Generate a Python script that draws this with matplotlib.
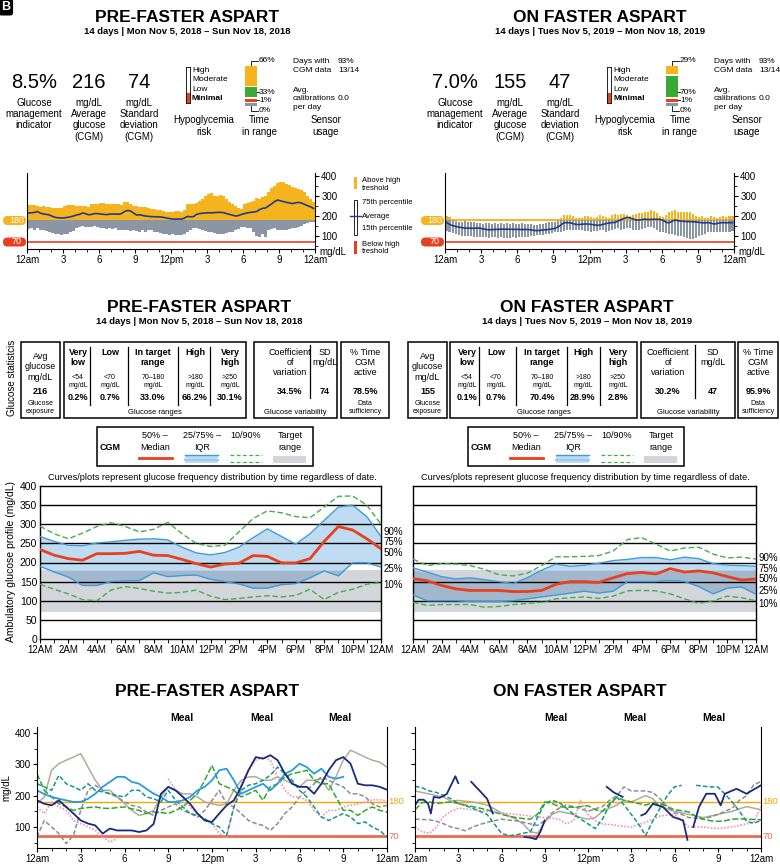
import numpy as np
import matplotlib.pyplot as plt
from matplotlib.patches import Rectangle, FancyBboxPatch

plt.rcParams['font.family'] = ['Liberation Sans', 'DejaVu Sans']

nan = np.nan

# ---------------- data ----------------
titles = ["PRE-FASTER ASPART", "ON FASTER ASPART"]
subtitles = ["14 days | Mon Nov 5, 2018 – Sun Nov 18, 2018",
             "14 days | Tues Nov 5, 2019 – Mon Nov 18, 2019"]
gmi = ["8.5%", "7.0%"]
mean_glucose = [216, 155]
sd_glucose = [74, 47]
tir_above = [66, 29]
tir_in = [33, 70]
tir_low = [1, 1]
tir_vlow = [0, 0]
cgm_days = ["93%", "93%"]
cgm_days_n = ["13/14", "13/14"]
calibrations = ["0.0", "0.0"]
hypo_levels = ["High", "Moderate", "Low", "Minimal"]
hypo_risk = ["Minimal", "Minimal"]

# table
range_names = ["Very\nlow", "Low", "In target\nrange", "High", "Very\nhigh"]
range_limits = ["<54\nmg/dL", "<70\nmg/dL", "70–180\nmg/dL", ">180\nmg/dL", ">250\nmg/dL"]
range_pct = [["0.2%", "0.7%", "33.0%", "66.2%", "30.1%"],
             ["0.1%", "0.7%", "70.4%", "28.9%", "2.8%"]]
cv = ["34.5%", "30.2%"]
cgm_active = ["78.5%", "95.9%"]

# percentile bars, 15 min bins (75th percentile, 15th percentile, average)
pre_p75 = [255, 254, 256, 250, 247, 249, 246, 244, 242, 240, 239, 241,
           250, 254, 256, 255, 252, 250, 249, 251, 246, 258, 262, 261,
           264, 263, 262, 260, 262, 258, 260, 255, 270, 268, 262, 252,
           248, 247, 246, 243, 240, 236, 233, 230, 228, 224, 222, 218,
           220, 223, 224, 222, 232, 262, 258, 262, 266, 275, 285, 300,
           308, 314, 300, 302, 303, 298, 285, 270, 262, 250, 242, 235,
           262, 266, 270, 275, 292, 284, 295, 300, 320, 338, 350, 367,
           372, 368, 362, 355, 345, 340, 333, 330, 318, 300, 285, 268]
pre_p15 = [135, 138, 132, 140, 132, 128, 125, 120, 115, 112, 108, 105,
           108, 112, 118, 125, 140, 145, 148, 146, 147, 145, 148, 143,
           140, 138, 135, 140, 135, 138, 132, 130, 128, 132, 125, 128,
           125, 122, 128, 120, 130, 128, 122, 118, 115, 110, 108, 105,
           108, 105, 103, 106, 110, 120, 130, 138, 140, 135, 128, 125,
           122, 118, 115, 112, 110, 112, 115, 118, 122, 128, 135, 145,
           147, 140, 138, 120, 98, 97, 112, 96, 130, 135, 138, 132,
           130, 128, 132, 136, 138, 140, 145, 150, 158, 163, 168, 172]
pre_avg = [215, 216, 218, 222, 214, 210, 208, 205, 198, 193, 191, 190,
           191, 193, 196, 200, 205, 208, 215, 212, 206, 208, 212, 212,
           210, 208, 207, 209, 210, 210, 209, 212, 222, 228, 225, 215,
           205, 206, 203, 200, 198, 197, 196, 196, 195, 193, 190, 187,
           185, 184, 185, 184, 190, 198, 196, 197, 208, 212, 214, 215,
           216, 216, 217, 218, 218, 217, 212, 208, 204, 200, 202, 208,
           212, 216, 218, 220, 222, 232, 238, 240, 250, 260, 272, 280,
           276, 272, 268, 265, 262, 266, 268, 265, 258, 252, 246, 238]
on_p75 = [202, 196, 178, 175, 172, 170, 176, 170, 168, 172, 166, 164,
          162, 165, 163, 160, 164, 162, 165, 160, 163, 161, 164, 162,
          160, 163, 158, 160, 158, 155, 157, 160, 162, 165, 168, 170,
          172, 176, 190, 204, 205, 204, 200, 192, 188, 190, 198, 200,
          195, 190, 193, 204, 200, 196, 188, 204, 208, 206, 210, 212,
          207, 198, 205, 210, 216, 214, 218, 222, 230, 226, 214, 200,
          195, 205, 222, 226, 228, 220, 222, 220, 218, 220, 210, 198,
          196, 200, 190, 188, 200, 196, 192, 195, 200, 196, 198, 200]
on_p15 = [125, 120, 115, 110, 105, 102, 98, 100, 100, 97, 95, 96,
          95, 93, 92, 94, 93, 92, 95, 92, 92, 90, 93, 92,
          95, 93, 96, 95, 100, 102, 104, 105, 107, 110, 112, 115,
          118, 120, 122, 125, 128, 130, 128, 132, 130, 128, 126, 124,
          122, 125, 127, 130, 128, 122, 125, 130, 135, 138, 132, 135,
          140, 138, 130, 128, 132, 135, 140, 145, 147, 140, 128, 122,
          118, 115, 112, 108, 105, 100, 98, 96, 90, 85, 83, 90,
          100, 106, 112, 118, 120, 122, 118, 120, 122, 118, 120, 124]
on_avg = [168, 158, 152, 148, 145, 142, 140, 139, 139, 138, 140, 139,
          136, 133, 131, 132, 133, 133, 134, 134, 134, 134, 133, 133,
          133, 132, 133, 132, 131, 128, 127, 128, 130, 131, 133, 135,
          138, 145, 155, 166, 167, 166, 162, 158, 157, 159, 160, 160,
          158, 156, 153, 155, 158, 162, 165, 167, 168, 175, 182, 188,
          193, 190, 185, 180, 180, 183, 184, 183, 183, 184, 184, 183,
          178, 168, 166, 175, 180, 176, 174, 173, 172, 172, 171, 170,
          168, 166, 166, 167, 163, 160, 163, 166, 167, 166, 167, 167]

# ambulatory glucose profile, hourly 12AM..12AM
pre_agp10 = [143, 130, 118, 103, 100, 128, 137, 132, 125, 120, 122, 128, 112,
             103, 106, 110, 113, 110, 114, 130, 103, 122, 130, 143, 148]
pre_agp25 = [190, 175, 162, 140, 140, 150, 152, 153, 173, 163, 166, 167, 156,
             150, 144, 133, 133, 142, 145, 160, 178, 165, 199, 199, 188]
pre_agp50 = [234, 219, 210, 206, 223, 223, 224, 229, 219, 218, 208, 197, 188,
             196, 198, 218, 216, 199, 199, 210, 255, 294, 285, 262, 236]
pre_agp75 = [268, 255, 245, 244, 251, 254, 258, 261, 262, 259, 240, 225, 220,
             226, 240, 265, 288, 268, 248, 275, 310, 345, 350, 320, 268]
pre_agp90 = [295, 275, 262, 277, 294, 304, 294, 280, 287, 305, 275, 250, 242,
             245, 280, 315, 335, 330, 320, 317, 345, 373, 374, 350, 300]
on_agp10 = [96, 88, 90, 90, 90, 83, 85, 90, 93, 96, 105, 108, 110,
            106, 112, 126, 127, 126, 118, 105, 93, 100, 112, 108, 100]
on_agp25 = [115, 100, 100, 100, 98, 98, 98, 100, 105, 110, 115, 120, 125,
            120, 125, 150, 150, 150, 153, 150, 137, 118, 133, 136, 117]
on_agp50 = [158, 152, 140, 131, 127, 127, 127, 124, 124, 127, 143, 150, 150,
            148, 160, 171, 174, 170, 184, 175, 178, 173, 163, 154, 157]
on_agp75 = [186, 175, 163, 157, 160, 155, 150, 145, 160, 180, 196, 190, 193,
            198, 205, 208, 213, 213, 207, 214, 210, 197, 193, 192, 190]
on_agp90 = [209, 192, 197, 196, 192, 182, 168, 165, 172, 192, 215, 215, 216,
            218, 230, 260, 265, 248, 230, 238, 240, 222, 212, 214, 209]

# daily traces, every 30 min
pre_navy = [185, 174, 169, 185, 164, 143, 121, 111, 105, 79, 95, 89, 89, 89, 84, 89, 110,
            206, 228, 217, 196, 174, 143, 121, 116, 143, 169, 185, 228, 281, 323, 318, 329,
            313, 270, 238, 228, 228, 206, 238, 281, 313, 323, 302, 238, 233, 233, 228, 219]
pre_blue = [217, 205, 196, 190, 185, 180, 180, 190, 206, 228, 244, 260, 260, 244, 238, 222, 206,
            196, 180, 180, 185, 196, 217, 228, 249, 281, 286, 249, 206, 217, 228, 238, 217,
            238, 270, 281, 302, 291, 270, 286, 260, 254, 260, nan, nan, nan, nan, nan, nan]
pre_green = [270, 217, 196, 174, 164, 153, 159, 162, 164, 160, 159, 162, 164, 158, 153, 143, 148,
             146, 143, 153, 164, 185, 206, 249, 297, 238, 228, 217, 196, 206, 217, 185, 228,
             238, 260, 270, 275, 281, 249, 238, 238, 196, 153, 153, 137, 153, 164, 153, 148]
pre_teal = [238, 228, 217, 265, 238, 228, 217, 238, 217, 212, 206, 200, 196, 217, 217, 196, 190,
            180, 217, 185, 164, 143, 137, 127, 111, 100, 73, 164, 217, 233, 238, 249, 265,
            291, 270, 249, 217, 196, 164, 132, 121, 132, 143, 132, 111, 116, 100, 89, 68]
pre_gray = [68, 121, 100, 79, 47, 73, 153, 217, 233, 217, 206, 196, 180, 169, 164, 148, 137,
            153, 164, 174, 153, 143, 132, 153, 185, 217, 174, 164, 143, 121, 111, 105, 89,
            111, 143, 164, 196, 217, 238, 260, 249, 238, 228, 206, 206, 196, 174, 164, 169]
pre_tan = [174, 196, 281, 302, 313, 323, 334, 291, 249, 217, 217, 196, 174, 153, 137, 143, 153,
           196, 228, 217, 206, 206, 196, 180, 174, 169, 174, 217, 249, 260, 260, 249, 249,
           260, 249, 238, 228, 249, 249, 254, 217, 260, 313, 345, 334, 323, 313, 307, 291]
pre_pink = [164, 143, 180, 164, 153, 121, 111, 100, 89, 68, 52, 63, nan, nan, nan, nan, nan,
            nan, 254, 217, 196, 164, 143, 121, 111, 79, 68, 164, 238, 281, 313, 323, 313,
            260, 217, 196, 196, 185, 153, 132, 153, 153, 164, 169, 174, 180, 187, 187, 183]

on_navy_h = [0, 0.25, 0.6, 0.9, 1.1, 1.3, 1.7, 2.2, 2.8, 3.0, 3.05,
             3.9, 4.5, 5.0, 5.4, 5.45,
             7.6, 8.0, 8.4, 8.7, 9.0, 9.05,
             13.3, 13.8, 14.4, 14.45,
             15.7, 16.0, 16.5, 17.2, 17.9, 18.6, 18.9, 18.95,
             19.3, 19.7, 20.2, 20.8, 21.2, 21.5, 22.3, 23.0, 23.4, 24.0]
on_navy = [169, 187, 187, 175, 143, 196, 193, 205, 262, 240, nan,
           244, 215, 190, 143, nan,
           68, 66, 61, 85, 121, nan,
           228, 210, 196, nan,
           137, 143, 174, 164, 132, 121, 59, nan,
           100, 164, 206, 206, 169, 206, 222, 206, 217, 233]
on_green = [155, 178, 180, 175, 178, 180, 175, 170, 165, 160, 155, 148, 140, 135, 130, 127, 125,
            140, 180, 175, 165, 163, 163, 165, 168, 155, 150, 175, 195, 185, 180, 175, 170,
            178, 175, 165, 155, 152, 148, 133, 125, 120, 118, 120, 125, 126, 125, 124, 123]
on_teal = [230, 225, 215, 210, 200, 190, 175, 168, 160, 150, 140, 110, 80, 72, 75, 80, 84,
           130, 175, 185, 178, 160, 140, 125, 110, 95, 125, 170, 196, 170, 140, 110, 73,
           120, 160, 200, 228, 233, nan, 233, 230, 228, 228, 205, 180, 150, 118, 112, 121]
on_gray = [125, 124, 123, 118, 110, 100, 95, 88, 100, 108, 115, 120, 125, 122, 120, 115, 110,
           105, 120, 145, 160, 170, 165, 158, 150, 158, 165, 185, 200, 228, 215, 215, 215,
           210, 190, 165, 145, 140, 130, 128, 125, 132, 140, 150, 160, 185, 200, 235, 245]
on_tan = [215, 210, 205, 200, 195, 182, 185, 182, 180, 175, 170, 158, 145, 135, 125, 110, 85,
          80, 115, 140, 150, 145, 140, 130, 125, 130, 150, 160, 170, 185, 180, 190, 200,
          190, 165, 158, 150, 145, 140, 135, 130, 135, 140, 145, 150, 158, 165, 160, 155]
on_pink = [100, 85, 80, 100, 135, 150, 160, 158, 155, 152, 150, 148, 145, 142, 140, 138, 135,
           132, 130, 128, 125, 110, 120, 185, 140, 120, 110, 108, 105, 102, 100, 108, 115,
           125, 135, 138, 140, 120, 100, 100, 100, 97, 95, 98, 100, 105, 110, 115, 165]

hour_labels = ["12am", "3", "6", "9", "12pm", "3", "6", "9", "12am"]
agp_labels = ["12AM", "2AM", "4AM", "6AM", "8AM", "10AM", "12PM", "2PM",
              "4PM", "6PM", "8PM", "10PM", "12AM"]
pct_names = ["90%", "75%", "50%", "25%", "10%"]

# ---------------- colours ----------------
ORANGE = '#F5B41E'
ORANGE_LINE = '#F5A800'
RED = '#E8401C'
GREEN = '#3BAA35'
GRAYBAR = '#8C95A4'
NAVY = '#1E3C8A'
TARGET = '#D2D5DA'
IQR_FILL = '#BEDBF2'
IQR_DARK = '#A3B7CC'
BLUE = '#3D9BDB'
P10C = '#44AE4C'

W, H = 780, 866
fig = plt.figure(figsize=(7.8, 8.66), dpi=100)

bg = fig.add_axes([0, 0, 1, 1])
bg.set_xlim(0, W)
bg.set_ylim(H, 0)
bg.axis('off')


def px_axes(x0, y0, x1, y1):
    ax = fig.add_axes([x0 / W, 1 - y1 / H, (x1 - x0) / W, (y1 - y0) / H])
    ax.set_facecolor('none')
    return ax


def txt(x, y, s, **kw):
    kw.setdefault('ha', 'center')
    kw.setdefault('va', 'center')
    bg.text(x, y, s, **kw)


def line(xs, ys, **kw):
    bg.plot(xs, ys, **kw)


# panel letter
txt(6, 7, "B", fontsize=9, fontweight='bold', color='white',
    bbox=dict(boxstyle='round,pad=0.2', fc='black', ec='none'))

# ---------------- summary strip ----------------
def summary(k, ox, tcx):
    txt(tcx, 17, titles[k], fontsize=12.5, fontweight='bold')
    txt(tcx, 31, subtitles[k], fontsize=6.8, fontweight='bold')
    vals = [gmi[k], str(mean_glucose[k]), str(sd_glucose[k])]
    labs = ["Glucose\nmanagement\nindicator", "mg/dL\nAverage\nglucose\n(CGM)",
            "mg/dL\nStandard\ndeviation\n(CGM)"]
    for cx, v, lab in zip([34, 89, 139], vals, labs):
        txt(ox + cx, 83, v, fontsize=14.5)
        txt(ox + cx, 98, lab, va='top', fontsize=7, linespacing=1.15)

    # hypoglycemia risk gauge
    ha = px_axes(ox + 186, 67, ox + 190, 103)
    level = len(hypo_levels) - hypo_levels.index(hypo_risk[k])
    ha.bar(0, level, width=1, color=RED)
    ha.set_xlim(-0.5, 0.5)
    ha.set_ylim(0, 3.6)
    ha.set_xticks([])
    ha.set_yticks([])
    for s in ha.spines.values():
        s.set_linewidth(0.6)
    for i, name in enumerate(hypo_levels):
        txt(ox + 192, 70 + i * 9.6, name, ha='left', fontsize=6,
            fontweight='bold' if name == hypo_risk[k] else 'normal')
    txt(ox + 204, 126, "Hypoglycemia\nrisk", fontsize=7, linespacing=1.15)

    # time in range stacked bar
    ta = px_axes(ox + 245, 61, ox + 257, 111)
    ta.set_ylim(50, 0)
    ta.set_xlim(-0.5, 0.5)
    ta.axis('off')
    y = 45
    for p, c in [(tir_vlow[k], GRAYBAR), (tir_low[k], RED), (tir_in[k], GREEN),
                 (tir_above[k], ORANGE)]:
        h = max(p * 0.3, 3)
        ta.bar(0, h, bottom=y - h, width=1, color=c)
        y -= h + 1.5
    line([ox + 251, ox + 251, ox + 258], [67, 61, 61], color='k', lw=0.6)
    line([ox + 251, ox + 251, ox + 258], [106, 111, 111], color='k', lw=0.6)
    line([ox + 256, ox + 259], [92, 92], color='k', lw=0.6)
    line([ox + 256, ox + 259], [100, 100], color='k', lw=0.6)
    for yy, p in zip([61, 92, 100, 111], [tir_above[k], tir_in[k], tir_low[k], tir_vlow[k]]):
        txt(ox + 259, yy, f"{p}%", ha='left', fontsize=6)
    txt(ox + 259, 126, "Time\nin range", fontsize=7, linespacing=1.15)

    # sensor usage
    txt(ox + 293, 66, "Days with\nCGM data", ha='left', fontsize=6, linespacing=1.25)
    txt(ox + 338, 66, f"{cgm_days[k]}\n{cgm_days_n[k]}", ha='left', fontsize=6, linespacing=1.25)
    txt(ox + 293, 99, "Avg.\ncalibrations\nper day", ha='left', fontsize=6, linespacing=1.25)
    txt(ox + 338, 99, calibrations[k], ha='left', fontsize=6)
    txt(ox + 326, 126, "Sensor\nusage", fontsize=7, linespacing=1.15)


summary(0, 0, 187)
summary(1, 421, 600)


# ---------------- percentile bar strip ----------------
def badge(x0, yc, s, color):
    bg.add_patch(FancyBboxPatch((x0, yc - 4.5), 23, 9, boxstyle='round,pad=0,rounding_size=4.5',
                                fc=color, ec='none'))
    txt(x0 + 14, yc, s, color='white', fontsize=6.5)


def bar_panel(x0, x1, p75, p15, avg):
    ax = px_axes(x0, 173, x1, 249)
    t = (np.arange(len(p75)) + 0.5) * 0.25
    p75 = np.array(p75, float)
    p15 = np.array(p15, float)
    ax.axhline(180, color=ORANGE_LINE, lw=1.2, zorder=1)
    ax.axhline(70, color=RED, lw=1.2, zorder=1)
    ax.bar(t, np.maximum(p75, 180) - 180, bottom=180, width=0.17, color=ORANGE, lw=0, zorder=2)
    ax.bar(t, np.minimum(p75, 180) - p15, bottom=p15, width=0.17, color=GRAYBAR, lw=0, zorder=2)
    ax.plot(t, avg, color=NAVY, lw=1.2, zorder=3)
    ax.set_xlim(0, 24)
    ax.set_ylim(35, 415)
    ax.spines['top'].set_visible(False)
    ax.yaxis.tick_right()
    ax.set_yticks([100, 200, 300, 400])
    ax.set_yticks([50, 150, 250, 350], minor=True)
    ax.set_xticks(range(0, 25, 3))
    ax.set_xticklabels(hour_labels)
    ax.set_xticks(range(25), minor=True)
    ax.tick_params(labelsize=7, length=3, width=0.8, pad=1.5)
    ax.tick_params(which='minor', length=2, width=0.6)
    txt(x1 + 4, 252, "mg/dL", ha='left', fontsize=7)
    badge(x0 - 24, 220.5, "180", ORANGE)
    badge(x0 - 24, 242, "70", RED)


bar_panel(27, 315, pre_p75, pre_p15, pre_avg)
bar_panel(445, 734, on_p75, on_p15, on_avg)

# legend for bar strip
bg.add_patch(Rectangle((354, 177), 3, 12, fc=ORANGE, ec='none'))
txt(362, 184.5, "Above high\ntreshold", ha='left', fontsize=5.5, linespacing=1.1)
bg.add_patch(Rectangle((354, 200), 3, 35, fc='white', ec='k', lw=0.6))
line([350, 361], [216, 216], color=NAVY, lw=1)
txt(362, 202, "75th percentile", ha='left', fontsize=5.5)
txt(362, 216, "Average", ha='left', fontsize=5.5)
txt(362, 229, "15th percentile", ha='left', fontsize=5.5)
bg.add_patch(Rectangle((354, 241), 3, 13, fc=RED, ec='none'))
txt(362, 248, "Below high\ntreshold", ha='left', fontsize=5.5, linespacing=1.1)


# ---------------- statistics table ----------------
def box(x0, x1, y0=342, y1=418):
    bg.add_patch(Rectangle((x0, y0), x1 - x0, y1 - y0, fc='none', ec='k', lw=1.1))


def table_panel(k, tcx, b1, b2, b3, b4, cols, seps, c3, sep3):
    txt(tcx, 307, titles[k], fontsize=12.5, fontweight='bold')
    txt(tcx, 322, subtitles[k], fontsize=6.8, fontweight='bold')
    for b in (b1, b2, b3, b4):
        box(*b)
    c1 = sum(b1) / 2
    txt(c1, 352, "Avg\nglucose\nmg/dL", va='top', fontsize=6.5, linespacing=1.2)
    txt(c1, 391, str(mean_glucose[k]), fontsize=6.5, fontweight='bold')
    txt(c1, 407.5, "Glucose\nexposure", fontsize=5, linespacing=1.25)
    for cx, nm, lim, pc in zip(cols, range_names, range_limits, range_pct[k]):
        txt(cx, 348, nm, va='top', fontsize=6.5, fontweight='bold', linespacing=1.1)
        txt(cx, 381.5, lim, fontsize=5, linespacing=1.2)
        txt(cx, 398, pc, fontsize=6.5, fontweight='bold')
    for sx in seps:
        line([sx, sx], [347, 405], color='k', lw=0.9)
    txt(sum(b2) / 2, 413, "Glucose ranges", fontsize=5.5)
    txt(c3[0], 348, "Coefficient\nof\nvariation", va='top', fontsize=6.5, linespacing=1.15)
    txt(c3[1], 348, "SD\nmg/dL", va='top', fontsize=6.5, linespacing=1.15)
    txt(c3[0], 392, cv[k], fontsize=6.5, fontweight='bold')
    txt(c3[1], 392, str(sd_glucose[k]), fontsize=6.5, fontweight='bold')
    line([sep3, sep3], [345, 398], color='k', lw=0.9)
    txt(sum(b3) / 2, 413, "Glucose variability", fontsize=5.5)
    c4 = sum(b4) / 2
    txt(c4, 348, "% Time\nCGM\nactive", va='top', fontsize=6.5, linespacing=1.15)
    txt(c4, 392, cgm_active[k], fontsize=6.5, fontweight='bold')
    txt(c4, 407.5, "Data\nsufficiency", fontsize=5, linespacing=1.25)


txt(12, 378, "Glucose statistcis", rotation=90, fontsize=7)
table_panel(0, 199, (21, 60), (64, 246), (254, 337), (341, 389),
            [78, 110, 153, 195, 230], [90, 128, 178, 210], (290, 325), 310)
table_panel(1, 587, (408, 447), (450, 637), (641, 735), (738, 778),
            [467, 496, 542, 583, 618], [479, 516, 567, 600], (668, 713), 695)


# ---------------- AGP legend ----------------
def agp_legend(x0):
    bg.add_patch(Rectangle((x0, 427), 216, 39, fc='white', ec='k', lw=1.1))
    txt(x0 + 13, 447, "CGM", fontsize=6.5, fontweight='bold')
    txt(x0 + 58, 436, "50% –", fontsize=6.5)
    txt(x0 + 58, 447, "Median", fontsize=6.5)
    line([x0 + 42, x0 + 75], [458, 458], color=RED, lw=2)
    txt(x0 + 105, 436, "25/75% –", fontsize=6.5)
    txt(x0 + 105, 447, "IQR", fontsize=6.5)
    bg.add_patch(Rectangle((x0 + 88, 455), 33, 8, fc=IQR_FILL, ec='none'))
    line([x0 + 88, x0 + 121], [455, 455], color=BLUE, lw=1)
    line([x0 + 88, x0 + 121], [459.5, 459.5], color='#9CCBEF', lw=1.5)
    txt(x0 + 149, 436, "10/90%", fontsize=6.5)
    line([x0 + 133, x0 + 165], [455, 455], color=P10C, lw=0.9, ls=(0, (3, 2)))
    line([x0 + 133, x0 + 165], [462, 462], color=P10C, lw=0.9, ls=(0, (3, 2)))
    txt(x0 + 193, 436, "Target", fontsize=6.5)
    txt(x0 + 193, 447, "range", fontsize=6.5)
    bg.add_patch(Rectangle((x0 + 176, 456), 33, 7, fc=TARGET, ec='none'))


agp_legend(97)
agp_legend(468)


# ---------------- AGP ----------------
def agp_panel(x0, x1, p10, p25, p50, p75, p90, lab_y, ylabels, capx):
    txt(capx, 478, "Curves/plots represent glucose frequency distribution by time regardless of date.",
        fontsize=6.6)
    ax = px_axes(x0, 486, x1, 639)
    ax.set_facecolor('white')
    h = np.arange(len(p50))
    p25 = np.array(p25, float)
    p75 = np.array(p75, float)
    ax.axhspan(70, 180, color=TARGET, lw=0, zorder=0)
    ax.fill_between(h, p25, p75, color=IQR_FILL, lw=0, zorder=1)
    lo = np.maximum(p25, 70)
    hi = np.minimum(p75, 180)
    ax.fill_between(h, lo, hi, where=hi > lo, interpolate=True, color=IQR_DARK, lw=0, zorder=1)
    for g in range(50, 400, 50):
        ax.axhline(g, color='k', lw=1, zorder=2)
    ax.plot(h, p90, color=P10C, lw=1, ls=(0, (4, 2)), zorder=3)
    ax.plot(h, p10, color=P10C, lw=1, ls=(0, (4, 2)), zorder=3)
    ax.plot(h, p75, color=BLUE, lw=1, zorder=3)
    ax.plot(h, p25, color=BLUE, lw=1, zorder=3)
    ax.plot(h, p50, color=RED, lw=2, zorder=4)
    ax.set_xlim(0, 24)
    ax.set_ylim(0, 400)
    for s in ax.spines.values():
        s.set_linewidth(1)
    ax.set_xticks(range(0, 25, 2))
    ax.set_xticklabels(agp_labels)
    ax.set_xticks(range(25), minor=True)
    ax.set_yticks(range(0, 401, 50))
    if ylabels:
        ax.tick_params(axis='y', labelsize=7.5, length=0, pad=2)
    else:
        ax.tick_params(axis='y', labelleft=False, length=0)
    ax.tick_params(axis='x', labelsize=7, length=3, pad=1.5)
    ax.tick_params(axis='x', which='minor', length=3)
    for nm, yy in zip(pct_names, lab_y):
        ax.text(24.15, yy, nm, fontsize=7, va='center', ha='left', clip_on=False)


agp_panel(40, 381, pre_agp10, pre_agp25, pre_agp50, pre_agp75, pre_agp90,
          [280, 254, 225, 184, 142], True, 212)
agp_panel(413, 756, on_agp10, on_agp25, on_agp50, on_agp75, on_agp90,
          [213, 184, 158, 125, 91], False, 585)
txt(11, 562, "Ambulatory glucose profile (mg/dL)", rotation=90, fontsize=7.5)


# ---------------- daily traces ----------------
half_hours = np.arange(49) * 0.5
STY = {
    'navy': dict(color='#1B2A80', lw=1.3, ls='-'),
    'blue': dict(color='#2B9BE0', lw=1.3, ls='-'),
    'green': dict(color='#2DAA2D', lw=1.1, ls=(0, (4, 1.5))),
    'teal': dict(color='#13968A', lw=1.1, ls=(0, (3, 1.5))),
    'gray': dict(color='#8A8C99', lw=1.1, ls=(0, (3, 1.5))),
    'tan': dict(color='#B5A999', lw=1.1, ls='-'),
    'pink': dict(color='#F48FB8', lw=1.2, ls=(0, (1, 1))),
}


def daily_panel(x0, x1, tcx, meals, traces, left_labels):
    txt(tcx, 692, titles[0] if left_labels else titles[1], fontsize=12.5, fontweight='bold')
    for mx in meals:
        txt(mx, 718, "Meal", fontsize=7.5, fontweight='bold')
    ax = px_axes(x0, 727, x1, 848)
    ax.axhline(180, color=ORANGE_LINE, lw=1, zorder=1)
    ax.axhline(70, color='#EE6A4F', lw=2, zorder=1)
    for hrs, vals, st in traces:
        ax.plot(hrs, vals, zorder=2, **STY[st])
    ax.set_xlim(0, 24)
    ax.set_ylim(33, 419)
    ax.spines['top'].set_visible(False)
    ax.set_xticks(range(0, 25, 3))
    ax.set_xticklabels(hour_labels)
    ax.set_xticks(range(25), minor=True)
    ax.set_yticks([100, 200, 300, 400])
    ax.set_yticks([50, 150, 250, 350], minor=True)
    ax.tick_params(labelsize=7, length=3, width=0.8, pad=1.5)
    ax.tick_params(which='minor', length=2, width=0.6)
    if left_labels:
        ax.set_ylabel("mg/dL", fontsize=7, labelpad=2)
    else:
        ax.tick_params(axis='y', labelleft=False)
    ax.text(24.1, 180, "180", color=ORANGE_LINE, fontsize=6.8, va='center', ha='left', clip_on=False)
    ax.text(24.1, 70, "70", color='#EE6A4F', fontsize=6.8, va='center', ha='left', clip_on=False)


daily_panel(37, 387, 207, [182, 262, 340],
            [(half_hours, pre_tan, 'tan'), (half_hours, pre_gray, 'gray'),
             (half_hours, pre_pink, 'pink'), (half_hours, pre_teal, 'teal'),
             (half_hours, pre_green, 'green'), (half_hours, pre_blue, 'blue'),
             (half_hours, pre_navy, 'navy')], True)
daily_panel(415, 761, 580, [556, 635, 714],
            [(half_hours, on_tan, 'tan'), (half_hours, on_gray, 'gray'),
             (half_hours, on_pink, 'pink'), (half_hours, on_teal, 'teal'),
             (half_hours, on_green, 'green'), (on_navy_h, on_navy, 'navy')], False)

fig.savefig("out.png", dpi=100)
